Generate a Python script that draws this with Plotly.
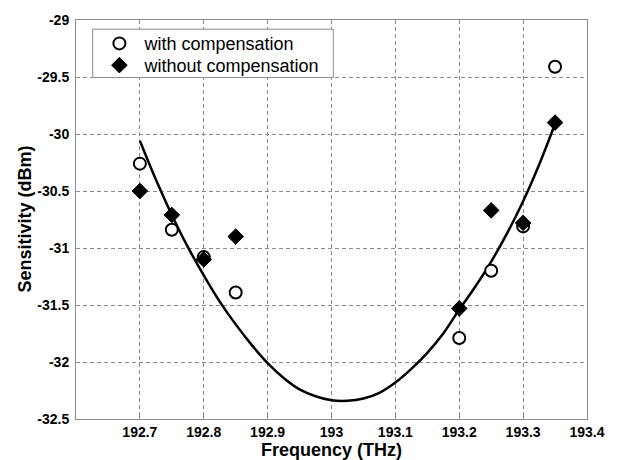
import plotly.graph_objects as go

# Measured data
freq = [192.70, 192.75, 192.80, 192.85, 193.20, 193.25, 193.30, 193.35]
with_comp = [-30.26, -30.84, -31.08, -31.39, -31.79, -31.20, -30.81, -29.41]
without_comp = [-30.50, -30.71, -31.10, -30.90, -31.53, -30.67, -30.78, -29.90]

# Fitted curve
fit_freq = [192.700, 192.725, 192.750, 192.775, 192.800, 192.825, 192.850, 192.875,
            192.900, 192.925, 192.950, 192.975, 193.000, 193.025, 193.050, 193.075,
            193.100, 193.125, 193.150, 193.175, 193.200, 193.225, 193.250, 193.275,
            193.300, 193.325, 193.350]
fit_sens = [-30.06, -30.40, -30.71, -30.99, -31.24, -31.47, -31.67, -31.85,
            -32.01, -32.14, -32.24, -32.30, -32.335, -32.34, -32.32, -32.27,
            -32.18, -32.06, -31.92, -31.75, -31.54, -31.34, -31.12, -30.87,
            -30.59, -30.27, -29.91]

x_ticks = [192.7, 192.8, 192.9, 193.0, 193.1, 193.2, 193.3, 193.4]
x_ticklabels = ["192.7", "192.8", "192.9", "193", "193.1", "193.2", "193.3", "193.4"]
y_ticks = [-32.5, -32.0, -31.5, -31.0, -30.5, -30.0, -29.5, -29.0]
y_ticklabels = ["-32.5", "-32", "-31.5", "-31", "-30.5", "-30", "-29.5", "-29"]

FONT = "Arial, Liberation Sans, Helvetica, sans-serif"
GRID = "#8c8c8c"

fig = go.Figure()
fig.add_trace(go.Scatter(x=fit_freq, y=fit_sens, mode="lines",
                         line=dict(color="black", width=2.5, shape="spline"),
                         showlegend=False, hoverinfo="skip"))
fig.add_trace(go.Scatter(x=freq, y=with_comp, mode="markers", name="with compensation",
                         legend="legend",
                         marker=dict(symbol="circle", size=12, color="white",
                                     line=dict(color="black", width=2))))
fig.add_trace(go.Scatter(x=freq, y=without_comp, mode="markers", name="without compensation",
                         legend="legend2",
                         marker=dict(symbol="diamond", size=12, color="black",
                                     line=dict(color="black", width=1))))

axis_common = dict(
    showgrid=True, gridcolor=GRID, gridwidth=1, griddash="4px,3px",
    showline=True, linecolor=GRID, linewidth=1, mirror=True,
    ticks="inside", ticklen=4, tickcolor=GRID,
    tickfont=dict(family=FONT, size=14, color="black", weight="bold"),
    zeroline=False,
)

legend_common = dict(xanchor="left", yanchor="middle", bgcolor="rgba(0,0,0,0)",
                     borderwidth=0, itemwidth=40,
                     font=dict(family=FONT, size=18, color="black"))

fig.update_layout(
    width=617, height=460,
    margin=dict(l=76, r=30, t=15, b=41),
    paper_bgcolor="white", plot_bgcolor="white",
    font=dict(family=FONT, color="black"),
    xaxis=dict(range=[192.6, 193.4], tickmode="array", tickvals=x_ticks,
               ticktext=x_ticklabels, **axis_common),
    yaxis=dict(range=[-32.5, -29.0], tickmode="array", tickvals=y_ticks,
               ticktext=y_ticklabels, ticklabelstandoff=3, **axis_common),
    legend=dict(x=0.036, y=(419 - 39) / 404, **legend_common),
    legend2=dict(x=0.036, y=(419 - 61) / 404, **legend_common),
    shapes=[dict(type="rect", xref="paper", yref="paper",
                 x0=0.0327, x1=0.5035, y0=0.8557, y1=0.977,
                 fillcolor="white", line=dict(color=GRID, width=1), layer="above")],
    annotations=[
        dict(text="Frequency (THz)", x=0.5, y=0, xref="paper", yref="paper",
             xanchor="center", yanchor="middle", yshift=-31, showarrow=False,
             font=dict(family=FONT, size=18, color="black", weight="bold")),
        dict(text="Sensitivity (dBm)", x=0, y=0.5, xref="paper", yref="paper",
             xanchor="center", yanchor="middle", xshift=-52, textangle=-90,
             showarrow=False,
             font=dict(family=FONT, size=18, color="black", weight="bold")),
    ],
)

fig.write_html("out.html")
